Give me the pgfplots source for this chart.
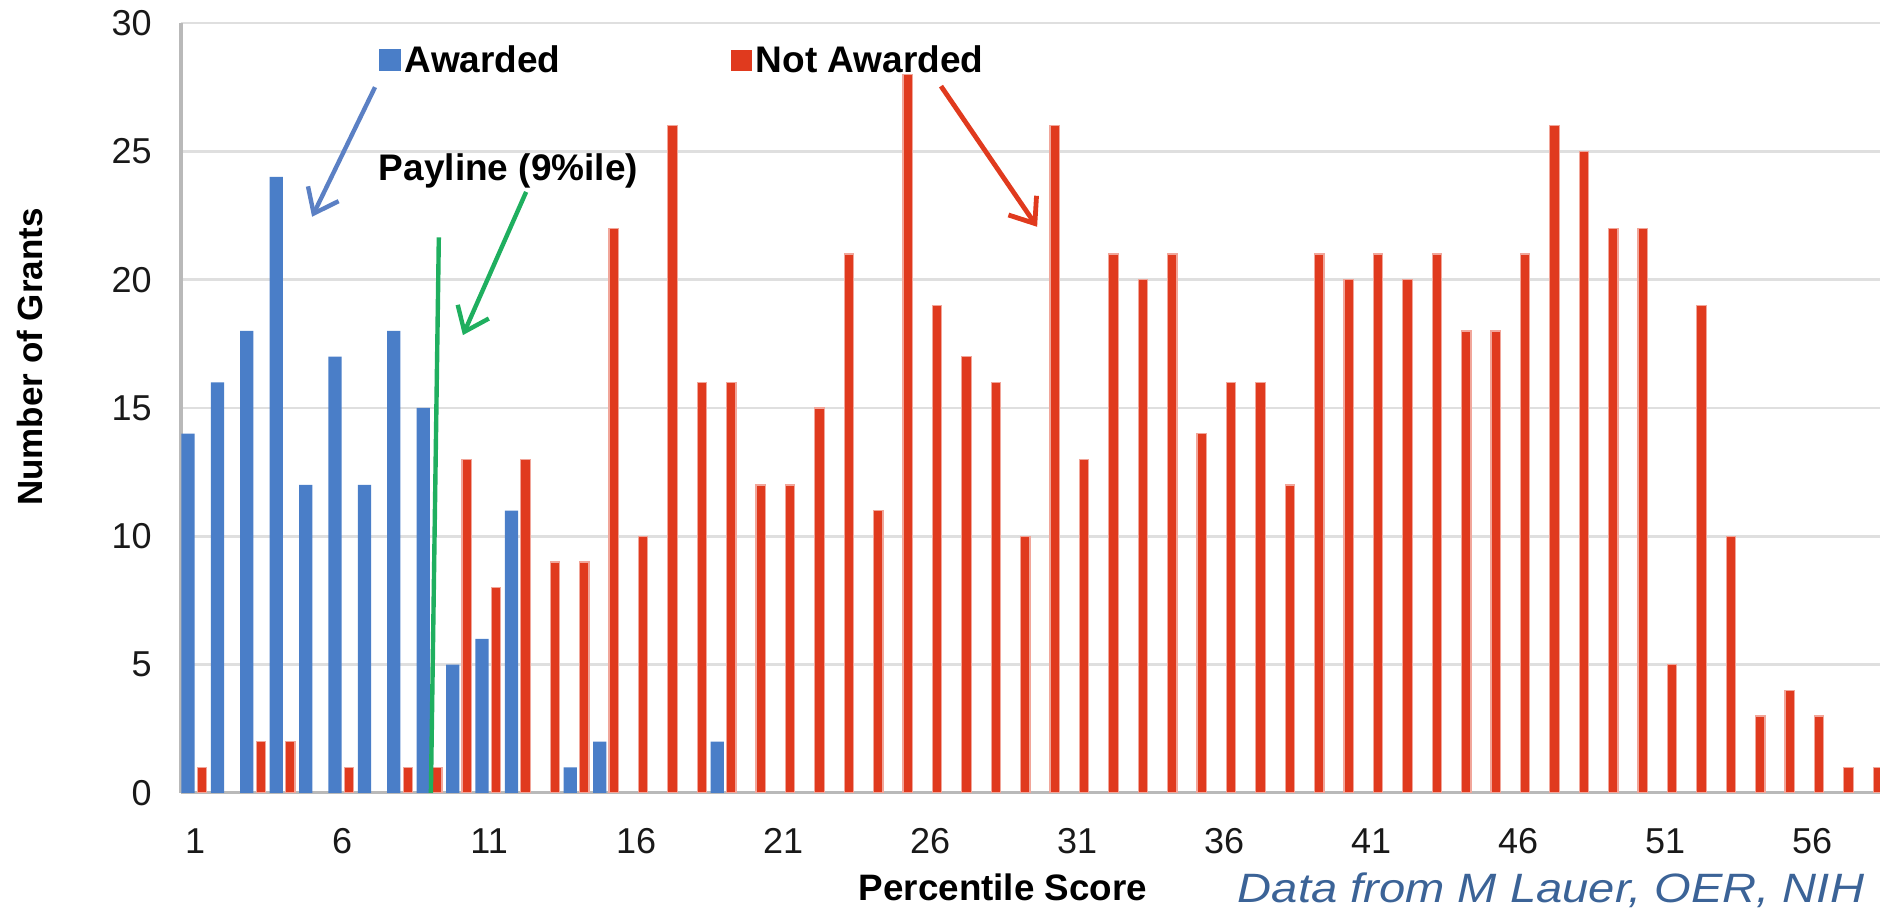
\documentclass[border=0pt]{standalone}
\usepackage{pgfplots}
\pgfplotsset{compat=1.18}
\usepackage{fontspec}
\setmainfont{Liberation Sans}
\newfontfamily\creditfont[FakeStretch=1.15]{Liberation Sans}
\usetikzlibrary{arrows.meta}
\definecolor{awblue}{HTML}{4A7EC8}
\definecolor{notred}{HTML}{E03A1E}
\definecolor{arrowblue}{HTML}{5B80C4}
\definecolor{paygreen}{HTML}{1FAF5F}
\definecolor{creditblue}{HTML}{3B6397}
\begin{document}
\begin{tikzpicture}
\useasboundingbox (-90.5pt,-58pt) rectangle (849.5pt,396.5pt);
\begin{axis}[
  scale only axis, width=849.5pt, height=385pt,
  xmin=0.52, xmax=58.31, ymin=0, ymax=30,
  axis lines=left, axis line style={-},
  x axis line style={draw=gray!55, line width=1.5pt},
  y axis line style={draw=gray!55, line width=2pt},
  xtick={1,6,...,56}, ytick={0,5,...,30},
  major tick length=0pt,
  ymajorgrids, grid style={draw=gray!25, line width=1.2pt},
  /pgf/number format/assume math mode=true,
  tick label style={font=\fontsize{18}{20}\selectfont, text=black!90},
  xticklabel style={anchor=center, yshift=-24pt},
  yticklabel style={anchor=east, inner sep=0pt, xshift=-14.5pt},
  xlabel={Percentile Score},
  ylabel={Number of Grants},
  every axis x label/.style={at={(axis description cs:0.4838,-0.1221)}, anchor=center, font=\bfseries\fontsize{18.4}{20}\selectfont},
  every axis y label/.style={at={(axis description cs:-0.0889,0.5662)}, rotate=90, anchor=center, font=\bfseries\fontsize{17.5}{20}\selectfont},
  legend style={at={(axis cs:7.24,28.55)}, anchor=west, draw=none, fill=none, inner sep=0pt,
    font=\bfseries\fontsize{18.5}{20}\selectfont, /tikz/every even column/.append style={column sep=83pt}},
  legend columns=2,
]
\addplot[ybar, bar width=0.45, bar shift=-0.24, fill=awblue, draw=none,
  legend image code/.code={\fill[awblue] (0pt,-5.5pt) rectangle (11pt,5.5pt);}]
  coordinates {(1,14) (2,16) (3,18) (4,24) (5,12) (6,17) (7,12) (8,18) (9,15) (10,5) (11,6) (12,11) (14,1) (15,2) (19,2)};
\addlegendentry{Awarded}
\addplot[ybar, bar width=0.32, bar shift=0.24, fill=notred, draw=notred!45, line width=0.6pt,
  legend image code/.code={\fill[notred] (0pt,-5pt) rectangle (10pt,5pt);}]
  coordinates {(1,1) (3,2) (4,2) (6,1) (8,1) (9,1) (10,13)
  (11,8) (12,13) (13,9) (14,9) (15,22) (16,10) (17,26) (18,16) (19,16) (20,12)
  (21,12) (22,15) (23,21) (24,11) (25,28) (26,19) (27,17) (28,16) (29,10) (30,26)
  (31,13) (32,21) (33,20) (34,21) (35,14) (36,16) (37,16) (38,12) (39,21) (40,20)
  (41,21) (42,20) (43,21) (44,18) (45,18) (46,21) (47,26) (48,25) (49,22) (50,22)
  (51,5) (52,19) (53,10) (54,3) (55,4) (56,3) (57,1) (58,1)};
\addlegendentry{Not Awarded}
\draw[paygreen, line width=2.2pt] (axis cs:9.29,21.65) -- (axis cs:9.02,0);
\node[anchor=west, inner sep=0pt, font=\bfseries\fontsize{18.5}{20}\selectfont] at (axis cs:7.24,24.23) {Payline (9\%ile)};
\draw[arrowblue, line width=2.2pt, -{Straight Barb[length=11pt,width=17pt]}] (axis cs:7.12,27.5) -- (axis cs:4.98,22.45);
\draw[paygreen, line width=2.2pt, -{Straight Barb[length=11pt,width=17pt]}] (axis cs:12.26,23.42) -- (axis cs:10.11,17.84);
\draw[notred, line width=2.4pt, -{Straight Barb[length=11pt,width=17pt]}] (axis cs:26.37,27.54) -- (axis cs:29.64,22.06);
\end{axis}
\node[anchor=base, text=creditblue, font=\creditfont\itshape\fontsize{20.5}{22}\selectfont, inner sep=0pt] at (685pt,-55pt) {Data from M Lauer, OER, NIH};
\end{tikzpicture}
\end{document}
